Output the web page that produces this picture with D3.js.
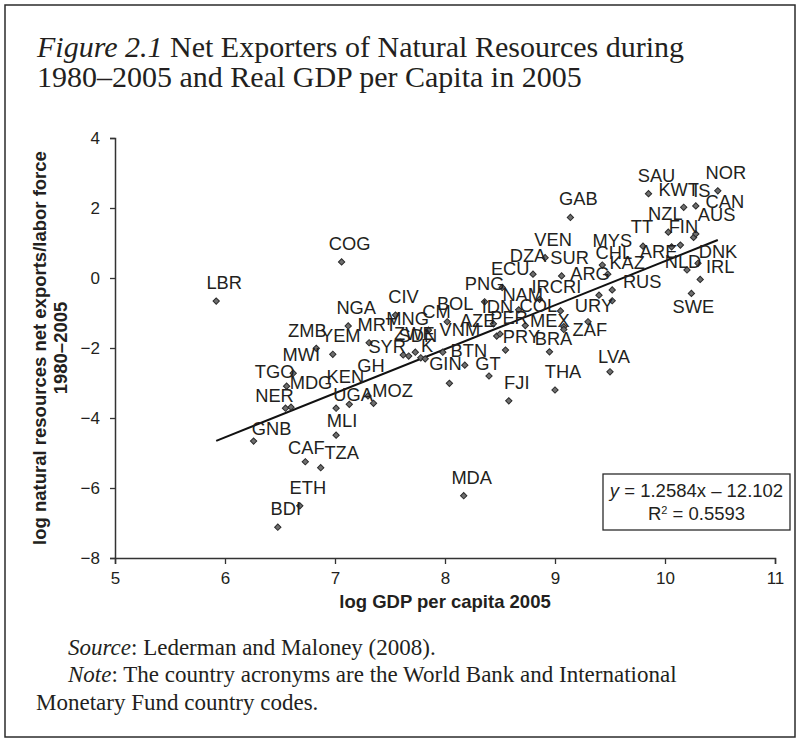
<!DOCTYPE html>
<html>
<head>
<meta charset="utf-8">
<script src="https://cdn.jsdelivr.net/npm/d3@7"></script>
<style>
  html, body { margin: 0; padding: 0; background: #fff; }
  svg { display: block; }
</style>
</head>
<body>
<script>
// Country codes, log GDP per capita 2005, log natural-resource net exports per worker 1980–2005
const codes = ["LBR","COG","NGA","ZMB","YEM","MWI","TGO","MDG","NER","KEN","UGA","GH","MOZ","MLI","GNB","CAF","TZA","ETH","BDI",
  "CIV","MRT","SYR","MNG","ZWE","SDN","K","CM","BOL","VNM","BTN","GIN","GT","AZE","PER","IDN","PNG","ECU","NAM","DZA","VEN","IR","COL","CRI","SUR",
  "GAB","MEX","PRY","BRA","ZAF","URY","THA","FJI","LVA","MDA","ARG","CHL","MYS","KAZ","RUS","TT","SAU","NZL","ARE","FIN","KWT","IS",
  "AUS","CAN","NOR","DNK","NLD","IRL","SWE"];
const logGdp = [5.92,7.06,7.12,6.83,6.98,6.62,6.56,6.60,6.55,7.13,7.01,7.30,7.35,7.01,6.26,6.73,6.87,6.68,6.48,
  7.55,7.31,7.62,7.67,7.73,7.78,7.82,7.85,8.02,7.98,8.18,8.04,8.40,8.47,8.50,8.44,8.36,8.52,8.67,8.80,8.91,8.86,8.73,9.05,9.06,
  9.14,9.08,8.55,8.95,9.08,9.30,9.00,8.58,9.50,8.17,9.40,9.48,9.43,9.52,9.52,9.80,9.85,10.03,10.06,10.14,10.17,10.28,
  10.26,10.28,10.48,10.30,10.20,10.32,10.24];
const logNrx = [-0.66,0.46,-1.37,-2.01,-2.18,-2.72,-3.09,-3.69,-3.72,-3.61,-3.72,-3.37,-3.58,-4.49,-4.66,-5.25,-5.42,-6.51,-7.12,
  -1.06,-1.85,-2.20,-2.23,-2.12,-2.28,-2.31,-1.49,-1.25,-2.12,-2.49,-3.01,-2.80,-1.66,-1.60,-1.31,-0.68,-0.27,-0.91,0.11,0.58,-0.61,-1.36,-0.94,0.06,
  1.73,-1.39,-2.06,-2.11,-1.47,-1.25,-3.20,-3.51,-2.68,-6.22,-0.49,0.11,0.37,-0.34,-0.65,0.91,2.41,1.31,0.89,0.94,2.02,2.06,
  1.16,1.26,2.49,0.42,0.23,-0.04,-0.44];

// Axis ticks
const xTicks = [5, 6, 7, 8, 9, 10, 11];
const yTicks = [4, 2, 0, -2, -4, -6, -8];

// Fitted trend line
const slope = 1.2584, intercept = -12.102, rSquared = 0.5593;

// Label placement: default sits above-right of the marker; crowded labels are nudged (px)
const labelDefault = [8, -12];
const labelNudge = {
  ZMB:[-9,-11], TGO:[-12,-8], MDG:[20,-18], NER:[-11,-6], KEN:[-4,-21], UGA:[17,-7], GH:[3,-24], MOZ:[19,-6],
  MLI:[6,-8], GNB:[18,-6], CAF:[1,-8], TZA:[21,-9], DZA:[-5,-12], PNG:[0,-12], IR:[1,-6], NAM:[4,-9], CRI:[5,-18],
  IDN:[4,-11], COL:[13,-14], AZE:[-19,-9], PER:[9,-10], MEX:[-14,0], VNM:[17,-16], PRY:[16,-7], BRA:[4,-7],
  BTN:[4,-8], GIN:[-4,-13], GT:[-1,-6], LVA:[4,-9], URY:[6,-10], ZAF:[26,7], ARG:[-9,-15], CHL:[6,-15],
  MYS:[10,-18], KAZ:[15,-21], RUS:[30,-13], TT:[-1,-13], ARE:[-13,11], FIN:[3,-12], NZL:[-3,-12], AUS:[23,-16],
  CAN:[29,-26], KWT:[-5,-11], IS:[6,-9], DNK:[20,-5], NLD:[-4,-2], IRL:[20,-6], SWE:[2,20], SYR:[-16,-2], MNG:[-1,-31],
  ZWE:[-1,-12], SDN:[-3,-16], K:[2,-7]
};

const W = 796, H = 738;
const svg = d3.select("body").append("svg").attr("width", W).attr("height", H);

// Frame
svg.append("rect").attr("x", 5).attr("y", 5).attr("width", 790).attr("height", 732)
  .attr("fill", "none").attr("stroke", "#2b2b2b").attr("stroke-width", 1.5);

// Title
const serif = "'Liberation Serif', 'DejaVu Serif', serif";
const sans = "'Liberation Sans', Arial, sans-serif";
const ink = "#231f20";
const title = svg.append("text").attr("x", 37).attr("y", 57)
  .attr("font-family", serif).attr("font-size", 30).attr("fill", ink);
title.append("tspan").attr("font-style", "italic").text("Figure 2.1");
title.append("tspan").text(" Net Exporters of Natural Resources during");
svg.append("text").attr("x", 37).attr("y", 87)
  .attr("font-family", serif).attr("font-size", 30).attr("fill", ink)
  .text("1980–2005 and Real GDP per Capita in 2005");

// Scales
const x = d3.scaleLinear().domain([5, 11]).range([115, 775]);
const y = d3.scaleLinear().domain([-8, 4]).range([558, 138]);

// Axes
const intFmt = d3.format("d");
const xAxis = svg.append("g").attr("transform", `translate(0,${y(-8)})`)
  .call(d3.axisBottom(x).tickValues(xTicks).tickFormat(intFmt).tickSizeOuter(0).tickSize(6).tickPadding(8));
const yAxis = svg.append("g").attr("transform", `translate(${x(5)},0)`)
  .call(d3.axisLeft(y).tickValues(yTicks).tickFormat(intFmt).tickSizeOuter(0).tickSize(5).tickPadding(10));
[xAxis, yAxis].forEach(g => {
  g.select(".domain").attr("stroke", "#333").attr("stroke-width", 1.5);
  g.selectAll(".tick line").attr("stroke", "#333").attr("stroke-width", 1.3);
  g.selectAll(".tick text").attr("font-family", sans).attr("font-size", 17).attr("fill", ink);
});

// Axis titles
svg.append("text").attr("x", (x(5) + x(11)) / 2).attr("y", 608).attr("text-anchor", "middle")
  .attr("font-family", sans).attr("font-weight", "bold").attr("font-size", 18.5).attr("fill", ink)
  .text("log GDP per capita 2005");
const yMid = (y(4) + y(-8)) / 2;
const yTitle = svg.append("text").attr("transform", `translate(45.5,${yMid}) rotate(-90)`)
  .attr("text-anchor", "middle").attr("font-family", sans).attr("font-weight", "bold")
  .attr("font-size", 18.5).attr("fill", ink);
yTitle.append("tspan").attr("x", 0).attr("y", 0).text("log natural resources net exports/labor force");
yTitle.append("tspan").attr("x", 0).attr("y", 21).text("1980–2005");

// Trend line over the range of the data
const xMin = d3.min(logGdp), xMax = d3.max(logGdp);
svg.append("line")
  .attr("x1", x(xMin)).attr("y1", y(slope * xMin + intercept))
  .attr("x2", x(xMax)).attr("y2", y(slope * xMax + intercept))
  .attr("stroke", "#111").attr("stroke-width", 2);

// Points
const pts = codes.map((c, i) => ({ code: c, gx: logGdp[i], ny: logNrx[i] }));
const diamond = d3.symbol().type(d3.symbolSquare).size(20)();
svg.append("g").selectAll("path").data(pts).join("path")
  .attr("d", diamond)
  .attr("transform", d => `translate(${x(d.gx)},${y(d.ny)}) rotate(45)`)
  .attr("fill", "#6e6e6e").attr("stroke", "#2b2b2b").attr("stroke-width", 1);

// Country labels
svg.append("g").selectAll("text").data(pts).join("text")
  .attr("x", d => x(d.gx) + (labelNudge[d.code] || labelDefault)[0])
  .attr("y", d => y(d.ny) + (labelNudge[d.code] || labelDefault)[1])
  .attr("text-anchor", "middle").attr("font-family", sans).attr("font-size", 18.3)
  .attr("fill", ink).text(d => d.code);

// Equation box
const box = { x0: 603, y0: 474, x1: 790, y1: 530 };
svg.append("rect").attr("x", box.x0).attr("y", box.y0)
  .attr("width", box.x1 - box.x0).attr("height", box.y1 - box.y0)
  .attr("fill", "#fff").attr("stroke", "#2b2b2b").attr("stroke-width", 1.3);
const cx = (box.x0 + box.x1) / 2;
const eq = svg.append("text").attr("x", cx).attr("y", 497).attr("text-anchor", "middle")
  .attr("font-family", sans).attr("font-size", 18.5).attr("fill", ink);
eq.append("tspan").attr("font-style", "italic").text("y");
eq.append("tspan").text(` = ${slope}x – ${Math.abs(intercept)}`);
const r2 = svg.append("text").attr("x", cx).attr("y", 520).attr("text-anchor", "middle")
  .attr("font-family", sans).attr("font-size", 18.5).attr("fill", ink);
r2.append("tspan").text("R");
r2.append("tspan").attr("baseline-shift", "super").attr("font-size", 11).text("2");
r2.append("tspan").text(` = ${rSquared}`);

// Source and note
const notes = svg.append("g").attr("font-family", serif).attr("font-size", 23).attr("fill", ink);
const s1 = notes.append("text").attr("x", 68).attr("y", 655);
s1.append("tspan").attr("font-style", "italic").text("Source");
s1.append("tspan").text(": Lederman and Maloney (2008).");
const s2 = notes.append("text").attr("x", 68).attr("y", 682);
s2.append("tspan").attr("font-style", "italic").text("Note");
s2.append("tspan").text(": The country acronyms are the World Bank and International");
notes.append("text").attr("x", 36).attr("y", 710).text("Monetary Fund country codes.");
</script>
</body>
</html>
